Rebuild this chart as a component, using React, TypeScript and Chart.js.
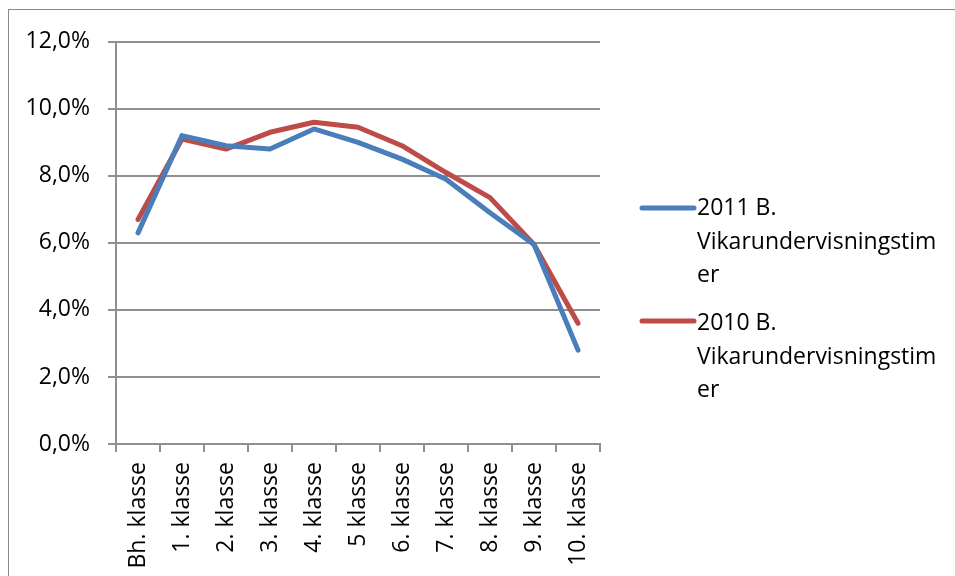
import React, { useEffect, useRef } from "react";
import { Chart, registerables } from "chart.js";

Chart.register(...registerables);

const categories = [
  "Bh. klasse",
  "1. klasse",
  "2. klasse",
  "3. klasse",
  "4. klasse",
  "5 klasse",
  "6. klasse",
  "7. klasse",
  "8. klasse",
  "9. klasse",
  "10. klasse",
];
const series2011 = [6.3, 9.2, 8.9, 8.8, 9.4, 9.0, 8.5, 7.9, 6.9, 5.95, 2.8];
const series2010 = [6.7, 9.1, 8.8, 9.3, 9.6, 9.45, 8.9, 8.1, 7.35, 5.95, 3.6];
const legend2011 = ["2011 B.", "Vikarundervisningstim", "er"];
const legend2010 = ["2010 B.", "Vikarundervisningstim", "er"];
const yMin = 0;
const yMax = 12;
const yStep = 2;

const BLUE = "#4A7EBB";
const RED = "#BE4B48";
const GRID = "#8f8f8f";
const FONT = "'Open Sans', sans-serif";

const legendPlugin = {
  id: "customLegend",
  afterDraw(chart: any) {
    const ctx = chart.ctx;
    const items = [
      { color: BLUE, lines: legend2011, lineY: 198, baseY: 205 },
      { color: RED, lines: legend2010, lineY: 311, baseY: 320 },
    ];
    ctx.save();
    ctx.font = `23px ${FONT}`;
    ctx.fillStyle = "#000";
    ctx.textAlign = "left";
    ctx.textBaseline = "alphabetic";
    items.forEach((it) => {
      ctx.strokeStyle = it.color;
      ctx.lineWidth = 5;
      ctx.lineCap = "round";
      ctx.beginPath();
      ctx.moveTo(633, it.lineY);
      ctx.lineTo(685, it.lineY);
      ctx.stroke();
      it.lines.forEach((t, i) => {
        ctx.fillText(t, 688, it.baseY + i * 33.5);
      });
    });
    ctx.restore();
  },
};

export default function App() {
  const ref = useRef<HTMLCanvasElement | null>(null);
  useEffect(() => {
    if (!ref.current) return;
    const chart = new Chart(ref.current, {
      type: "line",
      data: {
        labels: categories,
        datasets: [
          {
            label: legend2011.join(" "),
            data: series2011,
            borderColor: BLUE,
            backgroundColor: BLUE,
            borderWidth: 5,
            pointRadius: 0,
            tension: 0,
            borderCapStyle: "round",
            borderJoinStyle: "round",
          },
          {
            label: legend2010.join(" "),
            data: series2010,
            borderColor: RED,
            backgroundColor: RED,
            borderWidth: 5,
            pointRadius: 0,
            tension: 0,
            borderCapStyle: "round",
            borderJoinStyle: "round",
          },
        ],
      },
      options: {
        animation: false,
        responsive: false,
        devicePixelRatio: 1,
        layout: { padding: { left: 0, top: 29, right: 355, bottom: 0 } },
        plugins: {
          legend: { display: false },
          tooltip: { enabled: false },
        },
        scales: {
          x: {
            type: "category",
            offset: true,
            grid: {
              offset: true,
              drawOnChartArea: false,
              drawTicks: true,
              tickLength: 8,
              color: GRID,
              lineWidth: 2,
            },
            border: { display: true, color: GRID, width: 2 },
            ticks: {
              minRotation: 90,
              maxRotation: 90,
              autoSkip: false,
              padding: 10,
              color: "#000",
              font: { family: FONT, size: 23 },
            },
            afterFit(scale: any) {
              scale.height = 132;
            },
          },
          y: {
            min: yMin,
            max: yMax,
            grid: {
              color: GRID,
              lineWidth: 2,
              drawTicks: true,
              tickLength: 8,
            },
            border: { display: true, color: GRID, width: 2 },
            ticks: {
              stepSize: yStep,
              padding: 18,
              color: "#000",
              font: { family: FONT, size: 23 },
              callback: (v: any) => Number(v).toFixed(1).replace(".", ",") + "%",
            },
            afterFit(scale: any) {
              scale.width = 107;
            },
          },
        },
      },
      plugins: [legendPlugin],
    });
    return () => chart.destroy();
  }, []);
  return (
    <div
      style={{
        position: "absolute",
        left: 8,
        top: 9,
        width: 960,
        height: 600,
        borderTop: "1px solid #8a8a8a",
        borderLeft: "1px solid #8a8a8a",
        background: "#fff",
      }}
    >
      <canvas
        ref={ref}
        width={946}
        height={566}
        style={{ display: "block", width: 946, height: 566 }}
      />
    </div>
  );
}
